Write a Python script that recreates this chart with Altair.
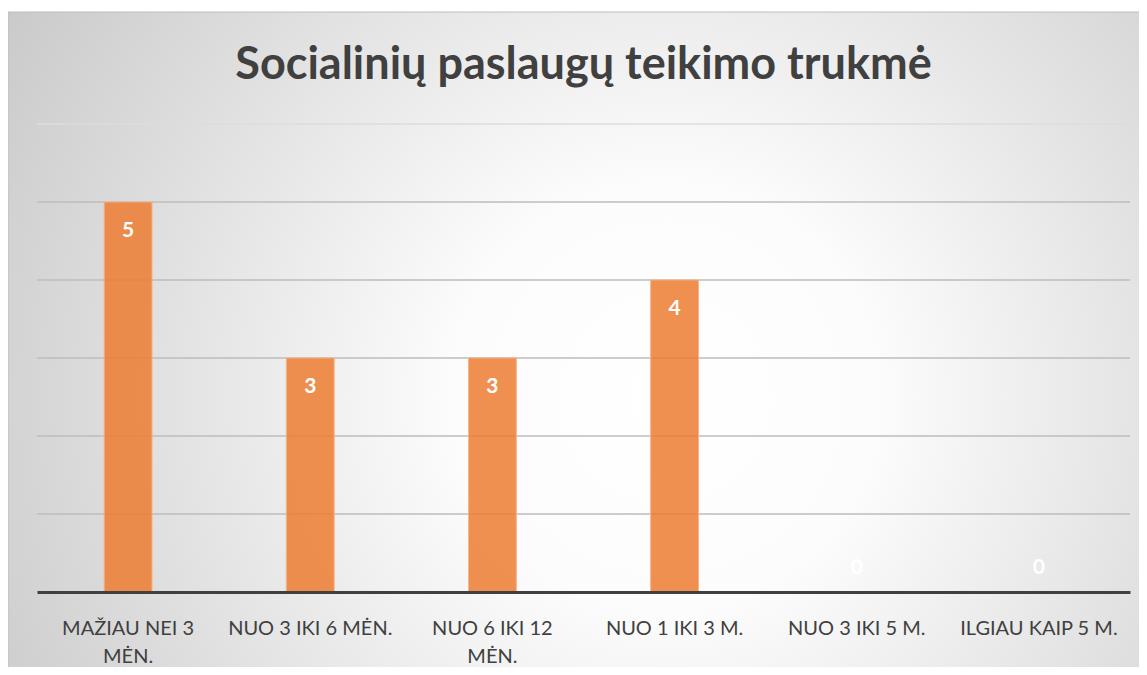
import altair as alt
import pandas as pd

TITLE = "Socialinių paslaugų teikimo trukmė"
categories = ["MAŽIAU NEI 3 MĖN.", "NUO 3 IKI 6 MĖN.", "NUO 6 IKI 12 MĖN.",
              "NUO 1 IKI 3 M.", "NUO 3 IKI 5 M.", "ILGIAU KAIP 5 M."]
values = [5, 3, 3, 4, 0, 0]
grid_values = [1, 2, 3, 4, 5, 6]

df = pd.DataFrame({"cat": categories, "val": values})
grid_df = pd.DataFrame({"v": grid_values})
title_df = pd.DataFrame({"t": [TITLE]})

W, H = 1093, 468
PAD_R, PAD_B = 9, 75
FONT = "Lato"

bg_fill = {
    "gradient": "radial",
    "x1": 0.58, "y1": 0.55, "r1": 0,
    "x2": 0.58, "y2": 0.55, "r2": 0.75,
    "stops": [
        {"offset": 0.0, "color": "#ffffff"},
        {"offset": 0.25, "color": "#fcfcfc"},
        {"offset": 1.0, "color": "#c2c2c2"},
    ],
}

yscale = alt.Scale(domain=[0, 6], nice=False)

background = alt.Chart(title_df).mark_rect(fill=bg_fill, stroke="#bdbdbd", strokeWidth=1).encode(
    x=alt.value(-29), x2=alt.value(W + PAD_R + 2),
    y=alt.value(-112), y2=alt.value(H + PAD_B + 2),
)

grid = alt.Chart(grid_df).mark_rule(strokeWidth=1.3).encode(
    x=alt.value(0), x2=alt.value(W),
    y=alt.Y("v:Q", scale=yscale, axis=None),
    color=alt.condition("datum.v == 6", alt.value("#dcdcdc"), alt.value("#bcbcbc")),
)

title = alt.Chart(title_df).mark_text(
    font=FONT, fontSize=45, fontWeight="bold", color="#404040",
    align="center", baseline="alphabetic",
).encode(text="t:N", x=alt.value(W / 2), y=alt.value(-45))

xenc = alt.X(
    "cat:N", sort=categories, title=None,
    scale=alt.Scale(paddingInner=0.737, paddingOuter=0.3685),
    axis=alt.Axis(
        labelAngle=0, labelFont=FONT, labelFontSize=20, labelColor="#404040",
        labelPadding=36, labelLineHeight=28, labelBaseline="middle",
        ticks=False, domainColor="#404040", domainWidth=3, grid=False,
        labelLimit=200, zindex=1,
        labelExpr="length(datum.label) > 16 ? [substring(datum.label, 0, lastindexof(datum.label, ' ')), substring(datum.label, lastindexof(datum.label, ' ') + 1)] : datum.label",
    ),
)
yenc = alt.Y("val:Q", title=None, scale=yscale, axis=None)

base = alt.Chart(df)

bars = base.transform_filter("datum.val > 0").mark_bar(
    fill="#ED7D31", fillOpacity=0.85, stroke="#F6B48A", strokeWidth=1
).encode(x=xenc, y=yenc)

labels_pos = base.transform_filter("datum.val > 0").mark_text(
    font=FONT, fontSize=21, fontWeight="bold", color="white", baseline="middle", dy=29
).encode(x=alt.X("cat:N", sort=categories), y=yenc, text="val:Q")

labels_zero = base.transform_filter("datum.val == 0").mark_text(
    font=FONT, fontSize=21, fontWeight="bold", color="white", baseline="middle", dy=-24
).encode(x=alt.X("cat:N", sort=categories), y=yenc, text="val:Q")

chart = alt.layer(background, grid, title, bars, labels_pos, labels_zero).properties(
    width=W, height=H,
    autosize=alt.AutoSizeParams(type="none"),
    padding={"left": 29, "top": 116, "right": PAD_R, "bottom": PAD_B},
).configure_view(stroke=None)

chart.save("out.html", embed_options={"renderer": "svg", "actions": False})
